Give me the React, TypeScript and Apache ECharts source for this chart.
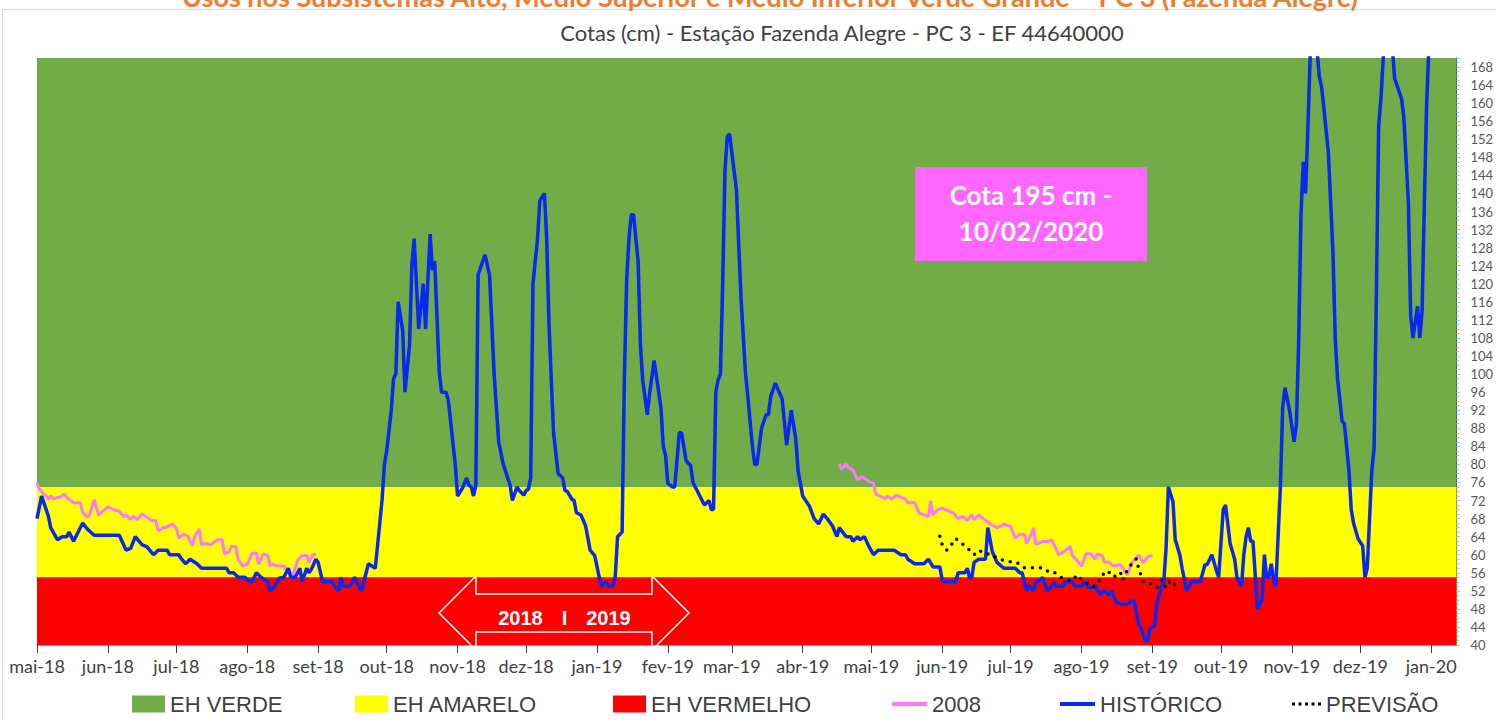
import React, { useEffect, useRef } from 'react';
import * as echarts from 'echarts';

const monthNames = ['jan', 'fev', 'mar', 'abr', 'mai', 'jun', 'jul', 'ago', 'set', 'out', 'nov', 'dez'];
const axisStart = '2018-05-01';
const axisEnd = '2020-01-12';
const yMin = 40;
const yMax = 170;
const yStep = 4;

const topVerde = 170;
const topAmarelo = 75;
const topVermelho = 55;

const chartTitle = 'Cotas (cm) - Estação Fazenda Alegre - PC 3 - EF 44640000';
const pageTitle = 'Usos nos Subsistemas Alto, Médio Superior e Médio Inferior Verde Grande – PC 3 (Fazenda Alegre)';
const noteLines = ['Cota 195 cm -', '10/02/2020'];
const arrowLabels = ['2018', 'I', '2019'];

const historico: [string, number][] = [
  ['2018-05-01', 68], ['2018-05-03', 73], ['2018-05-05', 70], ['2018-05-06', 68.5], ['2018-05-07', 66],
  ['2018-05-10', 63.3], ['2018-05-12', 64], ['2018-05-14', 64], ['2018-05-15', 65], ['2018-05-17', 63],
  ['2018-05-21', 67], ['2018-05-23', 65.7], ['2018-05-26', 64.3], ['2018-06-06', 64.3], ['2018-06-09', 61],
  ['2018-06-11', 61.4], ['2018-06-13', 64], ['2018-06-16', 62.2], ['2018-06-18', 61.8], ['2018-06-21', 60],
  ['2018-06-23', 61], ['2018-06-27', 61], ['2018-06-28', 60], ['2018-07-02', 60], ['2018-07-03', 59.2],
  ['2018-07-05', 58], ['2018-07-07', 59], ['2018-07-10', 58], ['2018-07-12', 57], ['2018-07-23', 57],
  ['2018-07-24', 56], ['2018-07-26', 56], ['2018-07-28', 55], ['2018-07-31', 55], ['2018-08-02', 54],
  ['2018-08-03', 54], ['2018-08-05', 56], ['2018-08-07', 55], ['2018-08-10', 54], ['2018-08-11', 52],
  ['2018-08-13', 53], ['2018-08-15', 54.8], ['2018-08-17', 55], ['2018-08-19', 57], ['2018-08-20', 55],
  ['2018-08-22', 55], ['2018-08-24', 57], ['2018-08-25', 54], ['2018-08-27', 57], ['2018-08-28', 56],
  ['2018-08-29', 56.7], ['2018-08-31', 59], ['2018-09-01', 58.3], ['2018-09-03', 54], ['2018-09-07', 54],
  ['2018-09-08', 53.2], ['2018-09-10', 52], ['2018-09-11', 55], ['2018-09-12', 53], ['2018-09-15', 53],
  ['2018-09-17', 55], ['2018-09-19', 52.8], ['2018-09-20', 52], ['2018-09-23', 58], ['2018-09-26', 57],
  ['2018-09-27', 62], ['2018-09-29', 72.3], ['2018-09-30', 80], ['2018-10-01', 83], ['2018-10-03', 92],
  ['2018-10-04', 99], ['2018-10-05', 100], ['2018-10-06', 116], ['2018-10-08', 109.6], ['2018-10-09', 96],
  ['2018-10-11', 106.5], ['2018-10-12', 124], ['2018-10-13', 130], ['2018-10-15', 110], ['2018-10-17', 120],
  ['2018-10-18', 110], ['2018-10-20', 131], ['2018-10-21', 123], ['2018-10-22', 125], ['2018-10-23', 112.7],
  ['2018-10-24', 100.3], ['2018-10-25', 96], ['2018-10-27', 96], ['2018-10-28', 94], ['2018-10-31', 80],
  ['2018-11-01', 73], ['2018-11-03', 74.6], ['2018-11-05', 77], ['2018-11-06', 75.4], ['2018-11-07', 75],
  ['2018-11-08', 73], ['2018-11-09', 75.4], ['2018-11-10', 122], ['2018-11-13', 126.4], ['2018-11-15', 122],
  ['2018-11-17', 100], ['2018-11-19', 85], ['2018-11-21', 80], ['2018-11-24', 75.4], ['2018-11-25', 72],
  ['2018-11-27', 75], ['2018-11-28', 74.2], ['2018-11-30', 73.2], ['2018-12-01', 74.2], ['2018-12-02', 74.5],
  ['2018-12-03', 77], ['2018-12-04', 120], ['2018-12-06', 130], ['2018-12-07', 138.4], ['2018-12-09', 140],
  ['2018-12-10', 130], ['2018-12-11', 111], ['2018-12-13', 87], ['2018-12-15', 78], ['2018-12-17', 77],
  ['2018-12-18', 74.2], ['2018-12-19', 74], ['2018-12-21', 72.3], ['2018-12-22', 72], ['2018-12-23', 69.3],
  ['2018-12-25', 68.8], ['2018-12-27', 66.4], ['2018-12-29', 61], ['2018-12-31', 59.8], ['2019-01-02', 55],
  ['2019-01-03', 53], ['2019-01-05', 54], ['2019-01-06', 53], ['2019-01-08', 53], ['2019-01-09', 55.2],
  ['2019-01-10', 64], ['2019-01-12', 65], ['2019-01-13', 99.5], ['2019-01-14', 121], ['2019-01-15', 130],
  ['2019-01-16', 135.3], ['2019-01-17', 135.3], ['2019-01-18', 130], ['2019-01-19', 125], ['2019-01-20', 106.5],
  ['2019-01-21', 98.7], ['2019-01-23', 91], ['2019-01-24', 95.6], ['2019-01-26', 103], ['2019-01-27', 99.5],
  ['2019-01-29', 92.5], ['2019-01-30', 84], ['2019-01-31', 82], ['2019-02-01', 75.8], ['2019-02-03', 75],
  ['2019-02-04', 75], ['2019-02-05', 80.8], ['2019-02-06', 87], ['2019-02-07', 87], ['2019-02-09', 80.8],
  ['2019-02-11', 79.7], ['2019-02-12', 76], ['2019-02-15', 73], ['2019-02-17', 71], ['2019-02-19', 72],
  ['2019-02-20', 70], ['2019-02-21', 70], ['2019-02-22', 96], ['2019-02-23', 98.7], ['2019-02-24', 100],
  ['2019-02-25', 120], ['2019-02-26', 145], ['2019-02-27', 152.6], ['2019-02-28', 153.2], ['2019-03-03', 140.8],
  ['2019-03-05', 117], ['2019-03-07', 100], ['2019-03-08', 95], ['2019-03-10', 84], ['2019-03-11', 80],
  ['2019-03-12', 80], ['2019-03-14', 88], ['2019-03-16', 91], ['2019-03-17', 91], ['2019-03-18', 95],
  ['2019-03-20', 98], ['2019-03-21', 96.8], ['2019-03-23', 94.5], ['2019-03-25', 84.3], ['2019-03-27', 92],
  ['2019-03-29', 85.5], ['2019-03-30', 78.5], ['2019-04-01', 73], ['2019-04-04', 70.7], ['2019-04-06', 68],
  ['2019-04-08', 66.8], ['2019-04-10', 69], ['2019-04-12', 67.8], ['2019-04-14', 66.4], ['2019-04-16', 64],
  ['2019-04-17', 66], ['2019-04-20', 64], ['2019-04-22', 64], ['2019-04-23', 63], ['2019-04-25', 64],
  ['2019-04-26', 63.3], ['2019-04-28', 64], ['2019-04-30', 61.8], ['2019-05-02', 60], ['2019-05-04', 61],
  ['2019-05-11', 61], ['2019-05-14', 60], ['2019-05-16', 60], ['2019-05-17', 59], ['2019-05-20', 58],
  ['2019-05-24', 58], ['2019-05-26', 59], ['2019-05-28', 57.3], ['2019-05-31', 57.3], ['2019-06-01', 54.5],
  ['2019-06-02', 54], ['2019-06-07', 54], ['2019-06-08', 56], ['2019-06-11', 56], ['2019-06-12', 57],
  ['2019-06-13', 55], ['2019-06-14', 55], ['2019-06-15', 58.3], ['2019-06-17', 59], ['2019-06-20', 59],
  ['2019-06-21', 66], ['2019-06-23', 60.6], ['2019-06-25', 58.3], ['2019-06-28', 57], ['2019-07-03', 57],
  ['2019-07-05', 56], ['2019-07-06', 56], ['2019-07-08', 52], ['2019-07-09', 53.2], ['2019-07-11', 52],
  ['2019-07-12', 54], ['2019-07-14', 54.4], ['2019-07-15', 55], ['2019-07-17', 52], ['2019-07-19', 53],
  ['2019-07-20', 54], ['2019-07-21', 53], ['2019-07-24', 53], ['2019-07-25', 54], ['2019-07-28', 54],
  ['2019-07-29', 53], ['2019-08-01', 53], ['2019-08-02', 54], ['2019-08-04', 52.8], ['2019-08-06', 52.8],
  ['2019-08-07', 53.2], ['2019-08-09', 51.3], ['2019-08-11', 52], ['2019-08-13', 51], ['2019-08-14', 52],
  ['2019-08-16', 49.7], ['2019-08-18', 49], ['2019-08-21', 49], ['2019-08-23', 49.7], ['2019-08-24', 49.7],
  ['2019-08-26', 44.7], ['2019-08-27', 43.8], ['2019-08-29', 41], ['2019-08-30', 41], ['2019-08-31', 43.8],
  ['2019-09-02', 44.2], ['2019-09-03', 49.3], ['2019-09-05', 53], ['2019-09-06', 54], ['2019-09-07', 61.6],
  ['2019-09-08', 75], ['2019-09-10', 71.8], ['2019-09-11', 63.3], ['2019-09-13', 60], ['2019-09-14', 57],
  ['2019-09-16', 52], ['2019-09-18', 54], ['2019-09-22', 54], ['2019-09-24', 57.8], ['2019-09-25', 57.8],
  ['2019-09-27', 60], ['2019-09-29', 56.5], ['2019-09-30', 55], ['2019-10-02', 70], ['2019-10-03', 71],
  ['2019-10-05', 62.5], ['2019-10-07', 59], ['2019-10-08', 55], ['2019-10-10', 53], ['2019-10-11', 60],
  ['2019-10-12', 64], ['2019-10-13', 66], ['2019-10-14', 63], ['2019-10-15', 63], ['2019-10-17', 48],
  ['2019-10-19', 50], ['2019-10-20', 60], ['2019-10-21', 55], ['2019-10-22', 55], ['2019-10-23', 58],
  ['2019-10-24', 54.4], ['2019-10-25', 53], ['2019-10-27', 75], ['2019-10-28', 92.5], ['2019-10-29', 97],
  ['2019-10-31', 92], ['2019-11-02', 85], ['2019-11-03', 88.7], ['2019-11-04', 107], ['2019-11-05', 135],
  ['2019-11-06', 147], ['2019-11-07', 140], ['2019-11-08', 154], ['2019-11-09', 170], ['2019-11-10', 185],
  ['2019-11-12', 172], ['2019-11-13', 166], ['2019-11-14', 163.7], ['2019-11-15', 159], ['2019-11-17', 149],
  ['2019-11-19', 127], ['2019-11-20', 108], ['2019-11-21', 99], ['2019-11-23', 89.6], ['2019-11-24', 89],
  ['2019-11-26', 78.6], ['2019-11-27', 70], ['2019-11-28', 67], ['2019-11-30', 63.5], ['2019-12-02', 62],
  ['2019-12-03', 55], ['2019-12-04', 57], ['2019-12-06', 78.6], ['2019-12-07', 83.6], ['2019-12-08', 118],
  ['2019-12-09', 155], ['2019-12-10', 161], ['2019-12-11', 170], ['2019-12-13', 185], ['2019-12-15', 172],
  ['2019-12-16', 165.4], ['2019-12-18', 162.5], ['2019-12-19', 161], ['2019-12-20', 157], ['2019-12-22', 138],
  ['2019-12-23', 113], ['2019-12-24', 108], ['2019-12-26', 115], ['2019-12-27', 108], ['2019-12-28', 114],
  ['2019-12-29', 138], ['2019-12-30', 160], ['2020-01-01', 185], ['2020-01-03', 195], ['2020-01-12', 195],
];

const ano2008Parte1: [string, number][] = [
  ['2018-05-01', 76], ['2018-05-02', 74.6], ['2018-05-04', 73.4], ['2018-05-05', 73], ['2018-05-06', 72.3],
  ['2018-05-07', 73], ['2018-05-08', 72.3], ['2018-05-10', 72.7], ['2018-05-11', 72.7], ['2018-05-13', 73.4],
  ['2018-05-14', 72.7], ['2018-05-15', 72.3], ['2018-05-17', 71.5], ['2018-05-20', 71.5], ['2018-05-21', 69.3],
  ['2018-05-23', 68.4], ['2018-05-24', 68.8], ['2018-05-26', 72.1], ['2018-05-28', 68.8], ['2018-05-29', 69.3],
  ['2018-06-01', 70.6], ['2018-06-04', 69.9], ['2018-06-06', 69.6], ['2018-06-08', 68.4], ['2018-06-09', 68.8],
  ['2018-06-11', 67.8], ['2018-06-12', 68.5], ['2018-06-14', 67.8], ['2018-06-15', 68.4], ['2018-06-16', 69],
  ['2018-06-19', 68], ['2018-06-20', 67.6], ['2018-06-22', 67.6], ['2018-06-23', 65.3], ['2018-06-25', 65.9],
  ['2018-06-27', 66.2], ['2018-06-29', 66.8], ['2018-07-01', 65.9], ['2018-07-02', 63.7], ['2018-07-04', 64.5],
  ['2018-07-06', 64.1], ['2018-07-08', 62], ['2018-07-09', 64.1], ['2018-07-11', 65.7], ['2018-07-12', 62.2],
  ['2018-07-14', 62.5], ['2018-07-16', 62.2], ['2018-07-19', 63.3], ['2018-07-21', 63.3], ['2018-07-22', 60.2],
  ['2018-07-24', 60.6], ['2018-07-25', 61.8], ['2018-07-27', 61.8], ['2018-07-28', 59], ['2018-07-30', 57.5],
  ['2018-08-01', 57.9], ['2018-08-03', 60.2], ['2018-08-05', 60.4], ['2018-08-06', 57.9], ['2018-08-08', 60.2],
  ['2018-08-10', 59.8], ['2018-08-11', 57.5], ['2018-08-12', 57.9], ['2018-08-14', 57.5], ['2018-08-17', 57.5],
  ['2018-08-18', 56.7], ['2018-08-21', 55.5], ['2018-08-23', 58.7], ['2018-08-25', 59.8], ['2018-08-27', 59.8],
  ['2018-08-28', 58.3], ['2018-08-29', 59.4], ['2018-08-30', 60], ['2018-08-31', 60],
];

const ano2008Parte2: [string, number][] = [
  ['2019-04-17', 80.1], ['2019-04-18', 78.9], ['2019-04-20', 80.1], ['2019-04-21', 79.3], ['2019-04-23', 78.7],
  ['2019-04-25', 76.6], ['2019-04-27', 77.3], ['2019-04-28', 76.9], ['2019-04-30', 76.2], ['2019-05-02', 75.8],
  ['2019-05-03', 73.4], ['2019-05-06', 72.7], ['2019-05-07', 72.3], ['2019-05-08', 73], ['2019-05-10', 72.3],
  ['2019-05-12', 73.2], ['2019-05-14', 72.7], ['2019-05-16', 72.3], ['2019-05-17', 71.5], ['2019-05-20', 71.5],
  ['2019-05-22', 69.2], ['2019-05-24', 68.8], ['2019-05-26', 68.4], ['2019-05-27', 71.9], ['2019-05-28', 68.8],
  ['2019-05-30', 69.9], ['2019-06-01', 70.3], ['2019-06-04', 69.6], ['2019-06-06', 69.2], ['2019-06-08', 68],
  ['2019-06-10', 68.5], ['2019-06-12', 67.6], ['2019-06-14', 68.8], ['2019-06-15', 67.8], ['2019-06-17', 68.8],
  ['2019-06-20', 67.6], ['2019-06-22', 66.8], ['2019-06-25', 66], ['2019-06-27', 66.4], ['2019-06-28', 66.8],
  ['2019-07-01', 66.2], ['2019-07-03', 63.7], ['2019-07-05', 64.5], ['2019-07-07', 64.5], ['2019-07-08', 62.5],
  ['2019-07-10', 64.5], ['2019-07-11', 65.9], ['2019-07-12', 62.3], ['2019-07-15', 62.9], ['2019-07-17', 62.9],
  ['2019-07-19', 63.3], ['2019-07-20', 62.2], ['2019-07-22', 60], ['2019-07-24', 60.6], ['2019-07-25', 61],
  ['2019-07-27', 61.8], ['2019-07-28', 59.8], ['2019-07-30', 58.7], ['2019-08-01', 57.5], ['2019-08-03', 60.2],
  ['2019-08-05', 60.2], ['2019-08-07', 59], ['2019-08-08', 60.2], ['2019-08-10', 59.8], ['2019-08-11', 58.3],
  ['2019-08-13', 58.3], ['2019-08-15', 57.5], ['2019-08-18', 57.8], ['2019-08-21', 55.5], ['2019-08-23', 58.2],
  ['2019-08-26', 59.9], ['2019-08-28', 58.2], ['2019-08-30', 59.5], ['2019-09-01', 59.9],
];

const previsao: [string, number][] = [
  ['2019-05-31', 64.1], ['2019-06-01', 62.3], ['2019-06-03', 61], ['2019-06-05', 62.2], ['2019-06-07', 63.6],
  ['2019-06-08', 63], ['2019-06-11', 62], ['2019-06-13', 61], ['2019-06-15', 60], ['2019-06-17', 61],
  ['2019-06-20', 60.2], ['2019-06-23', 60], ['2019-06-25', 59.2], ['2019-06-28', 58.7], ['2019-07-01', 58.4],
  ['2019-07-03', 58.4], ['2019-07-05', 57.9], ['2019-07-07', 57.1], ['2019-07-11', 57.1], ['2019-07-15', 57.1],
  ['2019-07-18', 56.1], ['2019-07-20', 56.1], ['2019-07-23', 55], ['2019-07-26', 54.5], ['2019-07-28', 54.2],
  ['2019-07-30', 55.5], ['2019-07-31', 55], ['2019-08-02', 54.2], ['2019-08-04', 53.6], ['2019-08-06', 52.8],
  ['2019-08-08', 53.8], ['2019-08-10', 55], ['2019-08-11', 56.3], ['2019-08-13', 56.1], ['2019-08-15', 55],
  ['2019-08-18', 56.1], ['2019-08-19', 54.4], ['2019-08-21', 56.5], ['2019-08-22', 57.4], ['2019-08-24', 58.6],
  ['2019-08-25', 59.1], ['2019-08-26', 56.9], ['2019-08-28', 54], ['2019-08-31', 53.6], ['2019-09-03', 52.7],
  ['2019-09-05', 54.4], ['2019-09-07', 52.7], ['2019-09-09', 54.4], ['2019-09-12', 52.7],
];

const ts = (s: string) => {
  const [y, m, d] = s.split('-').map(Number);
  return new Date(y, m - 1, d).getTime();
};
const toPoints = (arr: [string, number | null][]) => arr.map(([d, v]) => [ts(d), v]);

const COLORS = {
  verde: '#70AD47',
  amarelo: '#FFFF00',
  vermelho: '#FF0000',
  rosa: '#FF77FF',
  azul: '#0A28F0',
  preto: '#000000',
};

const legendFont = "'Liberation Sans', Arial, sans-serif";
const dotsIcon = 'path://M0,0h3v3h-3zM6.5,0h3v3h-3zM13,0h3v3h-3zM19.5,0h3v3h-3zM26,0h3v3h-3z';

export default function App() {
  const ref = useRef<HTMLDivElement>(null);

  useEffect(() => {
    if (!ref.current) return;
    const chart = echarts.init(ref.current, undefined, { renderer: 'svg' });
    const DAY = 86400000;
    const band = (name: string, top: number, color: string) => ({
      name,
      type: 'line',
      data: [[ts(axisStart), top], [ts(axisEnd), top]],
      symbol: 'none',
      silent: true,
      z: 1,
      itemStyle: { color },
      lineStyle: { width: 0, color },
      areaStyle: { color, opacity: 1, origin: 'start' },
    });

    const legendItems = [
      { name: 'EH VERDE', left: 127, icon: 'rect', w: 33, h: 17 },
      { name: 'EH AMARELO', left: 350, icon: 'rect', w: 33, h: 17 },
      { name: 'EH VERMELHO', left: 608, icon: 'rect', w: 33, h: 17 },
      { name: '2008', left: 887, icon: 'rect', w: 35, h: 4 },
      { name: 'HISTÓRICO', left: 1055, icon: 'rect', w: 35, h: 4 },
      { name: 'PREVISÃO', left: 1287, icon: dotsIcon, w: 29, h: 3.5 },
    ];

    const ano2008 = [
      ...toPoints(ano2008Parte1),
      [ts('2019-01-01'), null],
      ...toPoints(ano2008Parte2),
    ];

    chart.setOption({
      animation: false,
      backgroundColor: '#FFFFFF',
      textStyle: { fontFamily: 'Lato' },
      grid: { left: 37, right: 37, top: 58, bottom: 75, containLabel: false },
      xAxis: {
        type: 'time',
        min: ts(axisStart),
        max: ts(axisEnd),
        minInterval: 28 * DAY,
        maxInterval: 31 * DAY,
        axisLine: { show: true, lineStyle: { color: '#A6A6A6', width: 1 } },
        axisTick: { show: true, length: 8, lineStyle: { color: '#404040' } },
        splitLine: { show: false },
        axisLabel: {
          fontFamily: 'Lato',
          fontSize: 18,
          color: '#404040',
          margin: 12,
          hideOverlap: false,
          formatter: (val: number) => {
            const d = new Date(val);
            return monthNames[d.getMonth()] + '-' + String(d.getFullYear()).slice(2);
          },
        },
      },
      yAxis: {
        type: 'value',
        position: 'right',
        min: yMin,
        max: yMax,
        interval: yStep,
        axisLine: { show: true, lineStyle: { color: '#404040', width: 1 } },
        axisTick: { show: true, length: 4, lineStyle: { color: '#9DC3E6' } },
        minorTick: { show: true, splitNumber: 4, length: 3, lineStyle: { color: '#9DC3E6' } },
        splitLine: { show: false },
        axisLabel: {
          fontFamily: 'Lato',
          fontSize: 13,
          color: '#595959',
          margin: 14,
          showMaxLabel: false,
        },
      },
      legend: legendItems.map((it) => ({
        data: [{ name: it.name, icon: it.icon }],
        left: it.left,
        top: 688,
        itemWidth: it.w,
        itemHeight: it.h,
        itemGap: 5,
        selectedMode: false,
        textStyle: { fontFamily: legendFont, fontSize: 22, color: '#404040' },
      })),
      series: [
        band('EH VERDE', topVerde, COLORS.verde),
        band('EH AMARELO', topAmarelo, COLORS.amarelo),
        band('EH VERMELHO', topVermelho, COLORS.vermelho),
        {
          name: '2008',
          type: 'line',
          data: ano2008,
          symbol: 'none',
          connectNulls: false,
          z: 3,
          itemStyle: { color: COLORS.rosa },
          lineStyle: { color: COLORS.rosa, width: 3 },
        },
        {
          name: 'HISTÓRICO',
          type: 'line',
          data: toPoints(historico),
          symbol: 'none',
          clip: true,
          z: 4,
          itemStyle: { color: COLORS.azul },
          lineStyle: { color: COLORS.azul, width: 3.5 },
        },
        {
          name: 'PREVISÃO',
          type: 'line',
          data: toPoints(previsao),
          symbol: 'none',
          z: 5,
          itemStyle: { color: COLORS.preto },
          lineStyle: { color: COLORS.preto, width: 3.5, type: [0, 8], cap: 'round' },
        },
      ],
      graphic: [
        {
          type: 'rect',
          silent: true,
          z: 0,
          shape: { x: 2.5, y: 9.5, width: 1500, height: 720 },
          style: { fill: 'none', stroke: '#D9D9D9', lineWidth: 1 },
        },
        {
          type: 'text',
          z: 10,
          x: 770,
          y: -4,
          style: {
            text: pageTitle,
            fill: '#ED7D31',
            fontSize: 27,
            fontWeight: 'bold',
            fontFamily: 'Lato',
            align: 'center', textAlign: 'center',
            verticalAlign: 'middle', textVerticalAlign: 'middle',
          },
        },
        {
          type: 'text',
          z: 10,
          x: 842,
          y: 32,
          style: {
            text: chartTitle,
            fill: '#404040',
            fontSize: 22,
            fontFamily: 'Lato',
            align: 'center', textAlign: 'center',
            verticalAlign: 'middle', textVerticalAlign: 'middle',
          },
        },
        {
          type: 'rect',
          z: 10,
          silent: true,
          shape: { x: 915, y: 167, width: 232, height: 94 },
          style: { fill: '#FF66FF' },
        },
        ...noteLines.map((t, i) => ({
          type: 'text',
          z: 11,
          x: 1031,
          y: 195 + i * 36,
          style: {
            text: t,
            fill: '#FFFFFF',
            fontSize: 26,
            fontWeight: 'bold',
            fontFamily: 'Lato',
            align: 'center', textAlign: 'center',
            verticalAlign: 'middle', textVerticalAlign: 'middle',
          },
        })),
        {
          type: 'polygon',
          z: 10,
          silent: true,
          shape: {
            points: [
              [439, 613], [476, 576], [476, 594], [652, 594], [652, 576],
              [689, 613], [652, 650], [652, 632], [476, 632], [476, 650],
            ],
          },
          style: { fill: 'none', stroke: '#FFFFFF', lineWidth: 1.5 },
        },
        ...arrowLabels.map((t, i) => ({
          type: 'text',
          z: 11,
          x: [520.5, 564.5, 608.5][i],
          y: 618,
          style: {
            text: t,
            fill: '#FFFFFF',
            fontSize: 20,
            fontWeight: 'bold',
            fontFamily: "'Liberation Sans', Arial, sans-serif",
            align: 'center', textAlign: 'center',
            verticalAlign: 'middle', textVerticalAlign: 'middle',
          },
        })),
      ],
    });

    return () => {
      chart.dispose();
    };
  }, []);

  return (
    <div
      ref={ref}
      style={{ position: 'fixed', left: 0, top: 0, width: 1496, height: 720, background: '#FFFFFF' }}
    />
  );
}
